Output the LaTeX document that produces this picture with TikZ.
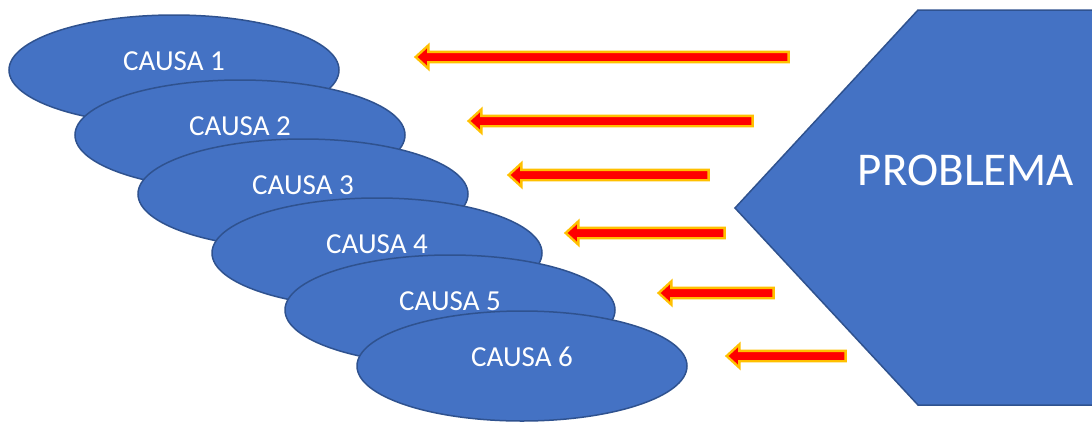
\documentclass[tikz,border=0pt]{standalone}
\usepackage{fontspec}
\setmainfont{Carlito}
\usetikzlibrary{shapes.geometric,shapes.arrows}
\definecolor{fillblue}{HTML}{4472C4}
\definecolor{lineblue}{HTML}{2F528F}
\definecolor{gold}{HTML}{FFC000}
\begin{document}
\begin{tikzpicture}[x=1pt,y=-1pt,
  causa/.style={ellipse,draw=lineblue,fill=fillblue,line width=1.5pt,
    minimum width=330pt,minimum height=110pt,inner sep=0pt},
  causatext/.style={text=white,font=\fontsize{29}{34}\selectfont,inner sep=0pt},
  redarrow/.style={single arrow,draw=gold,fill=red,line width=2.4pt,
    rotate=180,inner xsep=0pt,inner ysep=4pt,single arrow head extend=6.5pt,
    single arrow tip angle=85,minimum width=21pt}]
\useasboundingbox (0,0) rectangle (1092,421);
\foreach \n/\x/\y in {1/174/70,2/240/135,3/303/194,4/377/253,5/450/310,6/522/366}{
  \node[causa,label={[causatext,yshift=9pt]center:CAUSA \n}] (c\n) at (\x,\y) {};
}
% problem shape
\path[fill=fillblue,draw=lineblue,line width=1.5pt]
  (918,10) -- (1100,10) -- (1100,405) -- (918,405) -- (735,208) -- cycle;
\node[text=white,font=\fontsize{47}{54}\selectfont,inner sep=0pt] (prob) at (966,170) {PROBLEMA};
% arrows
\node[redarrow,minimum height=373pt] (a1) at (605,57) {};
\node[redarrow,minimum height=284pt] (a2) at (613.5,121) {};
\node[redarrow,minimum height=200pt] (a3) at (611.5,175) {};
\node[redarrow,minimum height=159pt] (a4) at (648,233) {};
\node[redarrow,minimum height=115pt] (a5) at (719,293) {};
\node[redarrow,minimum height=119pt] (a6) at (789,356) {};
\end{tikzpicture}
\end{document}
